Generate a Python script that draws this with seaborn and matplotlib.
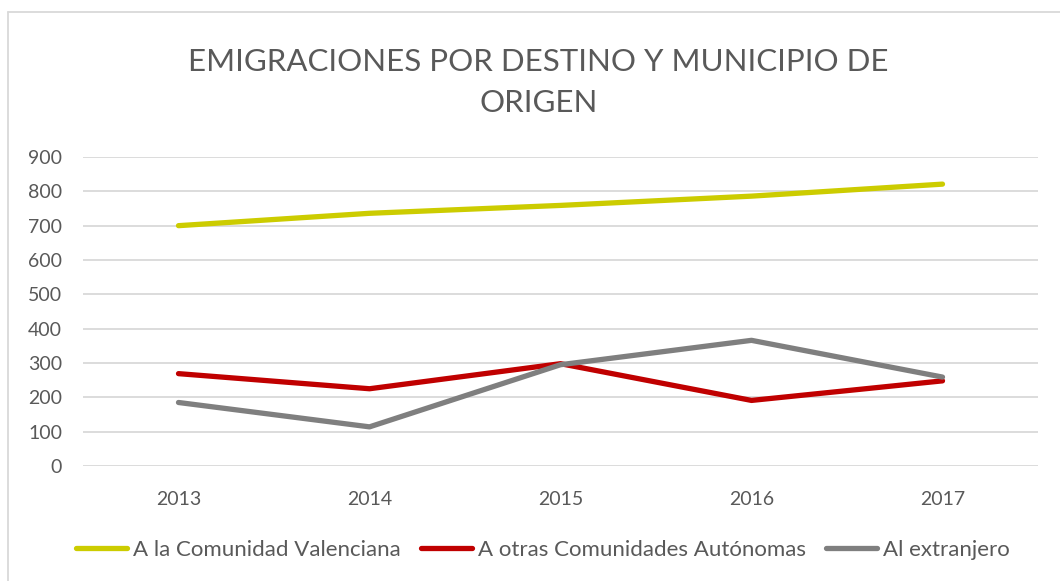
import pandas as pd
import matplotlib.pyplot as plt
import matplotlib.lines as mlines
import seaborn as sns

# data
years = ["2013", "2014", "2015", "2016", "2017"]
comunidad_valenciana = [700, 736, 759, 786, 821]
otras_comunidades = [269, 225, 298, 191, 248]
extranjero = [185, 114, 295, 366, 259]

series_names = ["A la Comunidad Valenciana", "A otras Comunidades Autónomas", "Al extranjero"]
colors = ["#cccc00", "#c00000", "#7f7f7f"]

df = pd.DataFrame({
    "year": years * 3,
    "value": comunidad_valenciana + otras_comunidades + extranjero,
    "serie": [series_names[0]] * 5 + [series_names[1]] * 5 + [series_names[2]] * 5,
})

sns.set_style("white")
plt.rcParams["font.family"] = ["Lato", "DejaVu Sans"]

text_col = "#595959"

fig = plt.figure(figsize=(10.6, 5.81), dpi=100)
ax = fig.add_axes([83 / 1060, 1 - 466 / 581, (1038 - 83) / 1060, (466 - 157) / 581])

sns.lineplot(data=df, x="year", y="value", hue="serie", palette=colors,
             linewidth=3.8, sort=False, ax=ax, legend=False)

ax.set_xlim(-0.5, 4.5)
ax.set_ylim(0, 900)
ax.set_yticks(range(0, 901, 100))
ax.yaxis.grid(True, color="#d9d9d9", linewidth=1.3)
ax.xaxis.grid(False)
for s in ax.spines.values():
    s.set_visible(False)
ax.tick_params(axis="both", length=0, labelsize=14, labelcolor=text_col)
ax.tick_params(axis="x", pad=18)
ax.tick_params(axis="y", pad=15)
ax.set_xlabel("")
ax.set_ylabel("")

fig.text(0.508, 1 - 62 / 581, "EMIGRACIONES POR DESTINO Y MUNICIPIO DE", ha="center", va="center",
         fontsize=22.5, color=text_col)
fig.text(0.508, 1 - 103 / 581, "ORIGEN", ha="center", va="center", fontsize=22.5, color=text_col)

handles = [mlines.Line2D([], [], color=c, linewidth=3.8) for c in colors]
fig.legend(handles, series_names, loc="center", bbox_to_anchor=(0.512, 1 - 550 / 581), ncol=3,
           frameon=False, fontsize=16, labelcolor=text_col, handlelength=2.3,
           handletextpad=0.27, columnspacing=0.9)

# outer chart border (top and left edges visible)
fig.add_artist(mlines.Line2D([8 / 1060, 1], [1 - 12 / 581, 1 - 12 / 581], color="#d9d9d9", linewidth=1.3))
fig.add_artist(mlines.Line2D([8 / 1060, 8 / 1060], [0, 1 - 12 / 581], color="#d9d9d9", linewidth=1.3))

fig.savefig("out.png", dpi=100)
